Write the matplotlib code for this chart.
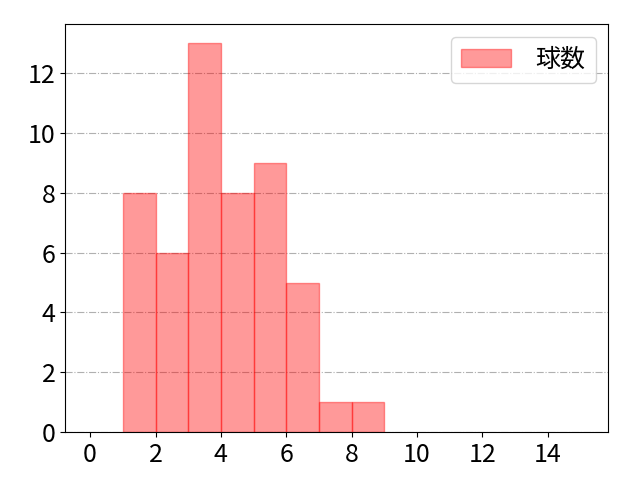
import matplotlib
matplotlib.use('Agg')
import matplotlib.pyplot as plt

plt.rcParams['font.family'] = ['Noto Sans CJK JP', 'DejaVu Sans']

# histogram bins and counts
bin_edges = [1, 2, 3, 4, 5, 6, 7, 8, 9]
counts = [8, 6, 13, 8, 9, 5, 1, 1]
label = '球数'

fig = plt.figure(figsize=(6.4, 4.8), dpi=100)
ax = fig.add_axes([0.102, 0.1, 0.848, 0.85])

ax.hist(bin_edges[:-1], bins=bin_edges, weights=counts,
        color='red', alpha=0.4, edgecolor='red', linewidth=1, label=label)

ax.grid(axis='y', linestyle='-.', color='#b0b0b0', linewidth=0.8)
ax.set_axisbelow(True)
ax.set_xlim(-0.76, 15.84)
ax.set_ylim(0, 13.65)
ax.set_xticks(range(0, 16, 2))
ax.set_yticks(range(0, 13, 2))
ax.tick_params(labelsize=18)

ax.legend(loc='upper right', fontsize=18, borderpad=0.4,
          handletextpad=1.0)

fig.savefig('out.png', dpi=100)
